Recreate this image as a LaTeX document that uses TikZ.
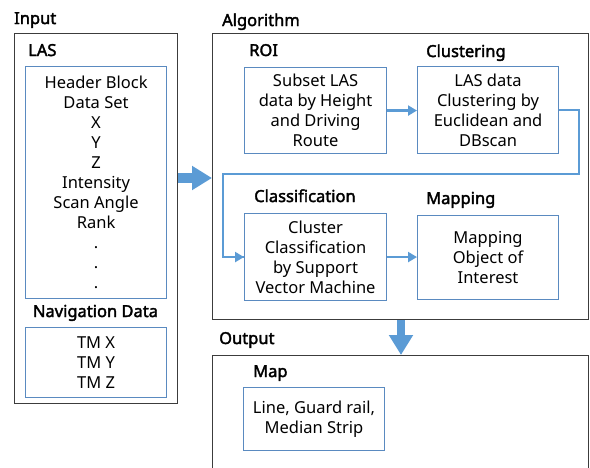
\documentclass[tikz,border=0pt]{standalone}
\usepackage{fontspec}
\setmainfont{Noto Sans}[AutoFakeBold=2.2]
\usetikzlibrary{arrows.meta}
\definecolor{boxblue}{HTML}{5A8AC0}
\definecolor{flowblue}{HTML}{5B9BD5}
\definecolor{frame}{HTML}{3C3C3C}
\tikzset{
  x=1pt, y=-1pt,
  every node/.style={font=\fontsize{16.5}{20}\selectfont},
  panel/.style={draw=frame, line width=1.1pt, anchor=north west, inner sep=0pt},
  stepbox/.style={draw=boxblue, line width=1.1pt, fill=white, anchor=north west,
    align=center, inner sep=0pt},
  heading/.style={anchor=base west, inner sep=0pt, font=\fontsize{16.5}{20}\selectfont\bfseries},
  flow/.style={draw=flowblue, line width=2.6pt, -{Triangle[length=9pt,width=10pt]}},
  bigflow/.style={draw=flowblue, -{Triangle[length=20pt,width=23pt]}},
}
\begin{document}
\begin{tikzpicture}
\useasboundingbox (0,0) rectangle (590,467);

% outer panels
\node[panel, minimum width=163pt, minimum height=370pt] (input) at (14,33) {};
\node[panel, minimum width=376pt, minimum height=286pt] (algo) at (212,33) {};
\node[panel, minimum width=376pt, minimum height=130pt] (output) at (212,355) {};

% panel headings
\node[heading] (tinput) at (14,24) {Input};
\node[heading] (talgo) at (222,26) {Algorithm};
\node[heading] (toutput) at (219,344) {Output};

% input contents
\node[heading] (tlas) at (28,56) {LAS};
\node[stepbox, minimum width=141pt, minimum height=232pt] (las) at (25,66)
  {Header Block\\Data Set\\X\\Y\\Z\\Intensity\\Scan Angle\\Rank\\.\\.\\.};
\node[heading, anchor=base] (tnav) at (95.5,317) {Navigation Data};
\node[stepbox, minimum width=141pt, minimum height=70pt] (nav) at (25,327)
  {TM X\\TM Y\\TM Z};

% algorithm steps
\node[heading] (troi) at (249,56) {ROI};
\node[stepbox, minimum width=142pt, minimum height=86pt] (roi) at (244,67)
  {Subset LAS\\data by Height\\and Driving\\Route};
\node[heading] (tclus) at (426,57) {Clustering};
\node[stepbox, minimum width=141pt, minimum height=87pt] (clus) at (417,66)
  {LAS data\\Clustering by\\Euclidean and\\DBscan};
\node[heading] (tcls) at (254,202) {Classification};
\node[stepbox, minimum width=142pt, minimum height=87pt] (cls) at (244,213)
  {Cluster\\Classification\\by Support\\Vector Machine};
\node[heading] (tmap) at (426,204) {Mapping};
\node[stepbox, minimum width=141pt, minimum height=84pt] (mapping) at (417,215)
  {Mapping\\Object of\\Interest};

% output contents
\node[heading] (tmapout) at (253,377) {Map};
\node[stepbox, minimum width=141pt, minimum height=63pt] (map) at (243,387)
  {Line, Guard rail,\\Median Strip};

% flow between steps
\coordinate (turnA) at (579,174);
\coordinate (turnB) at (223,174);
\draw[flow] (roi.east) -- (clus.west |- roi.east);
\draw[flow, -] (clus.east |- 0,110) -| (turnA) -- (turnB) |- (cls.west);
\draw[flow] (turnB) |- (cls.west);
\draw[flow] (cls.east) -- (mapping.west |- cls.east);

% flow between panels
\draw[bigflow, line width=10pt] (input.east |- 0,178) -- (algo.west |- 0,178);
\draw[bigflow, line width=7.5pt] (algo.south -| 401,0) -- (output.north -| 401,0);
\end{tikzpicture}
\end{document}
